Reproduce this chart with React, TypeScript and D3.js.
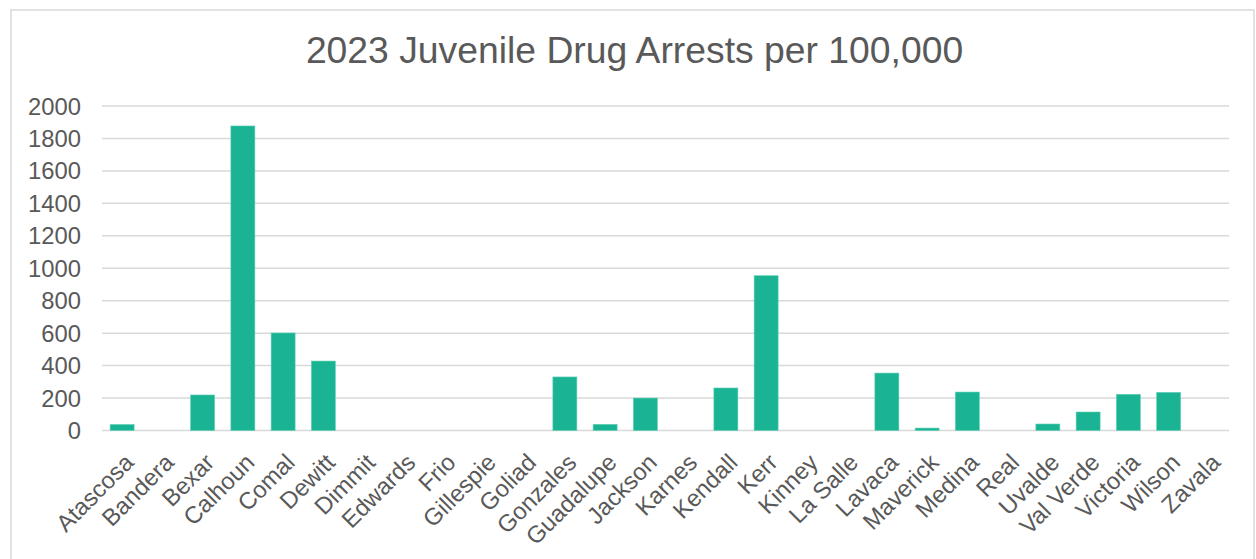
import React from "react";
import * as d3 from "d3";

const title = "2023 Juvenile Drug Arrests per 100,000";
const counties = [
  "Atascosa", "Bandera", "Bexar", "Calhoun", "Comal", "Dewitt", "Dimmit", "Edwards", "Frio",
  "Gillespie", "Goliad", "Gonzales", "Guadalupe", "Jackson", "Karnes", "Kendall", "Kerr",
  "Kinney", "La Salle", "Lavaca", "Maverick", "Medina", "Real", "Uvalde", "Val Verde",
  "Victoria", "Wilson", "Zavala",
];
const arrests = [
  37, 0, 219, 1877, 601, 428, 0, 0, 0,
  0, 0, 330, 38, 200, 0, 262, 954,
  0, 0, 354, 15, 237, 0, 40, 114,
  223, 235, 0,
];
const yTicks = [0, 200, 400, 600, 800, 1000, 1200, 1400, 1600, 1800, 2000];

const W = 1256;
const H = 559;
const plot = { left: 102, right: 1229, top: 106, bottom: 430.5 };
const textColor = "#595959";
const gridColor = "#d9d9d9";
const barColor = "#1ab394";
const font = "'Liberation Sans', Arial, sans-serif";

export default function App() {
  const x = d3
    .scaleBand<string>()
    .domain(counties)
    .range([plot.left, plot.right])
    .paddingInner(0.404)
    .paddingOuter(0.202);
  const y = d3.scaleLinear().domain([0, 2000]).range([plot.bottom, plot.top]);

  return (
    <svg
      width={W}
      height={H}
      style={{ position: "absolute", left: 0, top: 0, background: "#fff" }}
      fontFamily={font}
    >
      <rect x={0} y={0} width={W} height={H} fill="#fff" />
      <rect x={11} y={10} width={1243} height={560} fill="none" stroke={gridColor} strokeWidth={1.5} />
      <text x={634.5} y={63.3} textAnchor="middle" fontSize={37.3} fill={textColor}>
        {title}
      </text>
      {yTicks.map((t) => (
        <g key={t}>
          <line x1={plot.left} x2={plot.right} y1={y(t)} y2={y(t)} stroke={gridColor} strokeWidth={1.5} />
          <text x={81} y={y(t)} textAnchor="end" dominantBaseline="central" fontSize={23.8} fill={textColor}>
            {t}
          </text>
        </g>
      ))}
      {counties.map((c, i) => {
        const v = arrests[i];
        const bx = x(c)!;
        return (
          <rect
            key={c}
            x={bx}
            y={y(v)}
            width={x.bandwidth()}
            height={Math.max(0, y(0) - y(v))}
            fill={barColor}
            stroke="#5fd0b7"
            strokeWidth={0.6}
          />
        );
      })}
      {counties.map((c) => {
        const cx = x(c)! + x.bandwidth() / 2;
        const tx = cx + 13;
        const ty = 464;
        return (
          <text
            key={c}
            x={tx}
            y={ty}
            textAnchor="end"
            fontSize={23.8}
            fill={textColor}
            transform={`rotate(-45 ${tx} ${ty})`}
          >
            {c}
          </text>
        );
      })}
    </svg>
  );
}
